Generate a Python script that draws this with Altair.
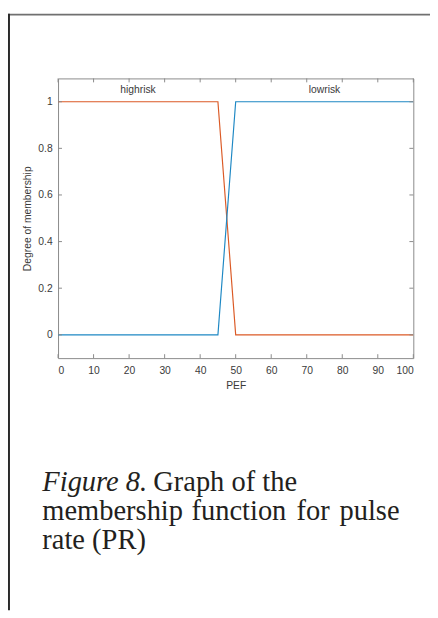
import altair as alt
import pandas as pd

# ---- data ----
pef = [0, 45, 50, 100]
highrisk = [1, 1, 0, 0]
lowrisk = [0, 0, 1, 1]
mf_names = ["highrisk", "lowrisk"]
mf_label_x = [22.5, 75]
mf_label_y = [1.05, 1.05]
x_ticks = [0, 10, 20, 30, 40, 50, 60, 70, 80, 90, 100]
y_ticks = [0, 0.2, 0.4, 0.6, 0.8, 1]
caption_italic = "Figure 8."
caption_line1 = "Graph of the"
caption_line2_words = ["membership", "function", "for", "pulse"]
caption_line3 = "rate (PR)"

ORANGE = "#DB5A26"
BLUE = "#1E88C4"
TXT = "#3a3a3a"
FRAME = "#8a8a8a"

W, H = 362, 285
PL, PT = 51, 66
TOTAL_W, TOTAL_H = 430, 608

lines = pd.DataFrame(
    {"PEF": pef * 2, "mu": highrisk + lowrisk,
     "mf": [mf_names[0]] * len(pef) + [mf_names[1]] * len(pef)}
)
labels = pd.DataFrame({"PEF": mf_label_x, "mu": mf_label_y, "mf": mf_names})
xt = pd.DataFrame({"t": x_ticks})
yt = pd.DataFrame({"t": y_ticks})

xscale = alt.Scale(domain=[0, 100], nice=False, zero=False)
yscale = alt.Scale(domain=[-0.1, 1.1], nice=False, zero=False)

FS = 10.5
xaxis = alt.Axis(values=x_ticks, grid=False, domain=False, ticks=False,
                 labelOverlap=False, labelFont="Liberation Sans", labelFontSize=FS,
                 labelColor=TXT, labelPadding=8, title="PEF", titleFont="Liberation Sans",
                 titleFontSize=FS, titleFontWeight="normal", titleColor=TXT,
                 titlePadding=4)
yaxis = alt.Axis(values=y_ticks, format="~g", grid=False, domain=False, ticks=False,
                 labelOverlap=False, labelFont="Liberation Sans", labelFontSize=FS,
                 labelColor=TXT, labelPadding=6, title="Degree of membership",
                 titleFont="Liberation Sans", titleFontSize=FS,
                 titleFontWeight="normal", titleColor=TXT, titlePadding=5)


def X(field):
    return alt.X(field, scale=xscale, axis=xaxis, title="PEF")


def Y(field):
    return alt.Y(field, scale=yscale, axis=yaxis, title="Degree of membership")


curves = alt.Chart(lines).mark_line(strokeWidth=1.2, clip=True).encode(
    x=X("PEF:Q"),
    y=Y("mu:Q"),
    color=alt.Color("mf:N", scale=alt.Scale(domain=mf_names, range=[ORANGE, BLUE]), legend=None),
    detail="mf:N",
)

mf_text = alt.Chart(labels).mark_text(font="Liberation Sans", fontSize=FS, color=TXT,
                                       baseline="middle", align="center").encode(
    x=X("PEF:Q"), y=Y("mu:Q"), text="mf:N")

tick_len = 4
xt_bottom = alt.Chart(xt).mark_rule(color=FRAME, strokeWidth=1).encode(
    x=X("t:Q"), y=alt.value(H), y2=alt.value(H - tick_len))
xt_top = alt.Chart(xt).mark_rule(color=FRAME, strokeWidth=1).encode(
    x=X("t:Q"), y=alt.value(0), y2=alt.value(tick_len))
yt_left = alt.Chart(yt).mark_rule(color=FRAME, strokeWidth=1).encode(
    y=Y("t:Q"), x=alt.value(0), x2=alt.value(tick_len))
yt_right = alt.Chart(yt).mark_rule(color=FRAME, strokeWidth=1).encode(
    y=Y("t:Q"), x=alt.value(W), x2=alt.value(W - tick_len))

# page border (top and left edges of the scanned figure box)
one = pd.DataFrame({"a": [0]})
border_top = alt.Chart(one).mark_rule(color="#707070", strokeWidth=2).encode(
    x=alt.value(-PL), x2=alt.value(TOTAL_W - PL), y=alt.value(-PT + 1))
border_left = alt.Chart(one).mark_rule(color="#2a2a2a", strokeWidth=2).encode(
    x=alt.value(-PL + 1), y=alt.value(-PT), y2=alt.value(TOTAL_H - PT))

# caption
cap_x = -16
cap_font = "Liberation Serif"
cap_size = 29
CAPC = "#231f20"


def cap_text(txt, x, y, align="left", italic=False):
    kw = dict(font=cap_font, fontSize=cap_size, align=align,
              baseline="alphabetic", color=CAPC)
    if italic:
        kw["fontStyle"] = "italic"
    return alt.Chart(pd.DataFrame({"t": [txt]})).mark_text(**kw).encode(
        text="t:N", x=alt.value(x), y=alt.value(y))


y1, y2, y3 = 420, 450, 480
cap = [
    cap_text(caption_italic, cap_x, y1, italic=True),
    cap_text(caption_line1, cap_x + 113, y1),
    cap_text(caption_line2_words[0], cap_x, y2),
    cap_text(caption_line2_words[1], cap_x + 152, y2),
    cap_text(caption_line2_words[2], cap_x + 259, y2),
    cap_text(caption_line2_words[3], 407 - 59, y2, align="right"),
    cap_text(caption_line3, cap_x, y3),
]

chart = alt.layer(
    curves, mf_text, xt_bottom, xt_top, yt_left, yt_right,
    border_top, border_left, *cap
).properties(
    width=W, height=H,
    autosize=alt.AutoSizeParams(type="none"),
    padding={"left": PL, "top": PT, "right": TOTAL_W - PL - W, "bottom": TOTAL_H - PT - H},
    background="white",
).configure_view(stroke=FRAME, strokeWidth=1)

chart.save("out.html", embed_options={"renderer": "svg", "actions": False})
